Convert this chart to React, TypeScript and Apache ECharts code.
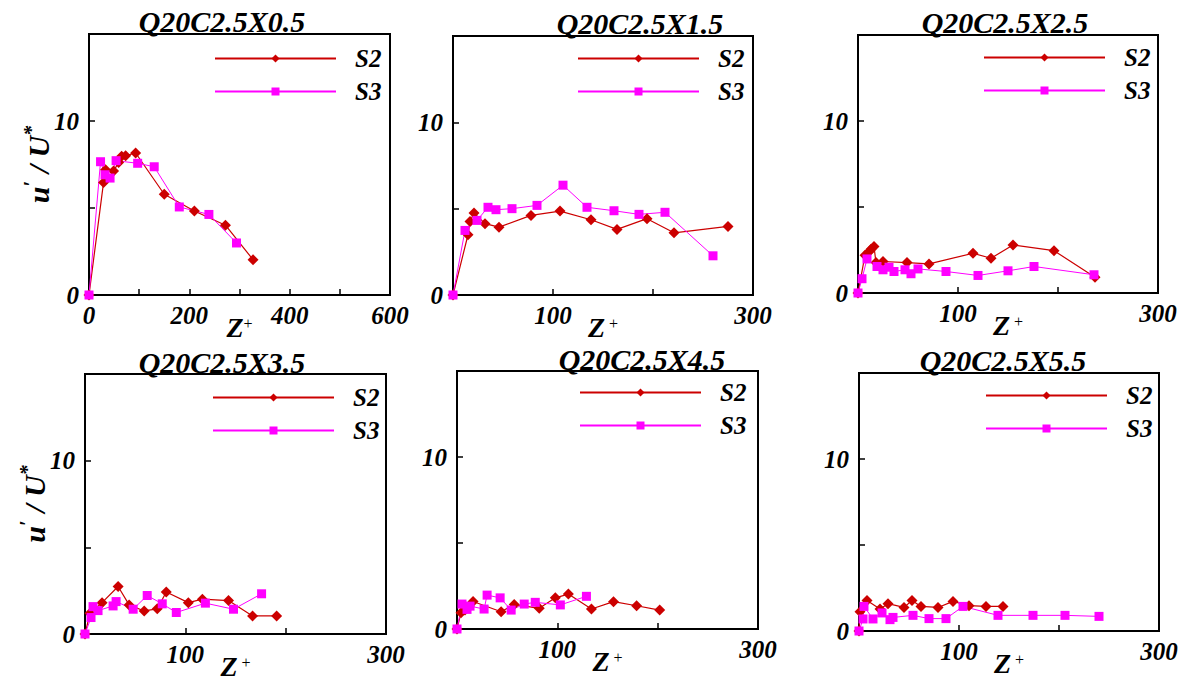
import React, { useEffect, useRef } from "react";
import * as echarts from "echarts";

// ---- data ----
const titles = ["Q20C2.5X0.5", "Q20C2.5X1.5", "Q20C2.5X2.5", "Q20C2.5X3.5", "Q20C2.5X4.5", "Q20C2.5X5.5"];
const seriesNames = ["S2", "S3"];

const p1S2z = [0, 29, 33, 49, 59, 65, 73, 93, 150, 210, 272, 327];
const p1S2u = [0, 6.47, 7.2, 7.12, 7.62, 7.97, 8.01, 8.16, 5.79, 4.83, 4.01, 2.03];
const p1S3z = [0, 23, 32, 42, 54, 97, 130, 180, 239, 294];
const p1S3u = [0, 7.66, 6.91, 6.72, 7.72, 7.57, 7.37, 5.06, 4.63, 2.99];

const p2S2z = [0, 15, 17, 21, 32, 46, 78, 107, 138, 164, 194, 221, 275];
const p2S2u = [0, 3.49, 4.26, 4.75, 4.13, 3.93, 4.61, 4.86, 4.36, 3.8, 4.42, 3.6, 3.97];
const p2S3z = [0, 12, 24, 35, 43, 59, 84, 110, 134, 161, 186, 212, 260];
const p2S3u = [0, 3.74, 4.32, 5.08, 4.94, 5.0, 5.19, 6.36, 5.08, 4.88, 4.67, 4.79, 2.27];

const p3S2z = [0, 7, 11, 13, 16, 18, 25, 49, 71, 115, 133, 155, 196, 237];
const p3S2u = [0, 2.2, 2.4, 2.55, 2.7, 1.77, 1.83, 1.77, 1.69, 2.31, 2.02, 2.79, 2.46, 0.92];
const p3S3z = [0, 4, 9, 19, 25, 31, 36, 47, 53, 60, 88, 120, 150, 176, 236];
const p3S3u = [0, 0.83, 1.98, 1.54, 1.35, 1.5, 1.25, 1.35, 1.12, 1.4, 1.25, 1.02, 1.29, 1.54, 1.06];

const p4S2z = [0, 5, 17, 33, 44, 59, 72, 81, 103, 117, 143, 167, 191];
const p4S2u = [0, 1.2, 1.81, 2.74, 1.68, 1.33, 1.45, 2.42, 1.81, 2.01, 1.93, 1.04, 1.04];
const p4S3z = [0, 6, 8, 13, 28, 31, 48, 62, 77, 91, 120, 148, 176];
const p4S3u = [0, 0.95, 1.58, 1.35, 1.62, 1.87, 1.43, 2.22, 1.74, 1.24, 1.78, 1.43, 2.32];

const p5S2z = [0, 4, 8, 12, 16, 44, 57, 82, 98, 111, 134, 156, 179, 202];
const p5S2u = [0, 0.95, 1.1, 1.3, 1.6, 1.0, 1.43, 1.2, 1.81, 2.03, 1.16, 1.59, 1.35, 1.1];
const p5S3z = [0, 5, 10, 13, 27, 30, 43, 54, 67, 78, 103, 129];
const p5S3u = [0, 1.45, 1.14, 1.33, 1.16, 1.97, 1.81, 1.1, 1.45, 1.55, 1.4, 1.9];

const p6S2z = [0, 1, 8, 21, 29, 45, 53, 62, 79, 94, 110, 127, 144];
const p6S2u = [0, 1.12, 1.78, 1.28, 1.59, 1.37, 1.78, 1.43, 1.37, 1.72, 1.47, 1.43, 1.43];
const p6S3z = [0, 4, 5, 14, 23, 31, 34, 54, 70, 87, 104, 139, 174, 206, 240];
const p6S3u = [0, 0.7, 1.43, 0.7, 1.05, 0.66, 0.79, 0.91, 0.72, 0.72, 1.43, 0.91, 0.91, 0.91, 0.85];

const panelData = [
  [p1S2z, p1S2u, p1S3z, p1S3u],
  [p2S2z, p2S2u, p2S3z, p2S3u],
  [p3S2z, p3S2u, p3S3z, p3S3u],
  [p4S2z, p4S2u, p4S3z, p4S3u],
  [p5S2z, p5S2u, p5S3z, p5S3u],
  [p6S2z, p6S2u, p6S3z, p6S3u],
];

const xMax = [600, 300, 300, 300, 300, 300];
const xLabels = [[0, 200, 400, 600], [100, 300], [100, 300], [100, 300], [100, 300], [100, 300]];
const yLabels = [0, 10];

// ---- layout ----
const grids = [
  { left: 89, top: 34, width: 301, height: 261 },
  { left: 453, top: 36, width: 300, height: 259 },
  { left: 858, top: 35, width: 300, height: 258 },
  { left: 85, top: 374, width: 301, height: 260 },
  { left: 457, top: 371, width: 301, height: 258 },
  { left: 859, top: 373, width: 300, height: 258 },
];
const legendPos = [
  { left: 214, top: 46 },
  { left: 577, top: 46 },
  { left: 983, top: 45 },
  { left: 212, top: 385 },
  { left: 579, top: 380 },
  { left: 985, top: 383 },
];
const titlePos = [
  { x: 222, y: 10 },
  { x: 640, y: 12 },
  { x: 1005, y: 11 },
  { x: 222, y: 351 },
  { x: 642, y: 348 },
  { x: 1003, y: 349 },
];

const FONT = "'Liberation Serif', 'Times New Roman', serif";
const RED = "#CC0000";
const MAGENTA = "#FF00FF";

export default function App() {
  const ref = useRef<HTMLDivElement>(null);
  useEffect(() => {
    if (!ref.current) return;
    const chart = echarts.init(ref.current, undefined, { renderer: "svg" });
    const boldItalic = { fontFamily: FONT, fontWeight: "bold" as const, fontStyle: "italic" as const, color: "#000" };

    const xAxes = grids.map((_, i) => ({
      type: "value",
      gridIndex: i,
      min: 0,
      max: xMax[i],
      interval: 100,
      axisLine: { show: true, lineStyle: { color: "#000", width: 2 } },
      axisTick: { show: true, inside: true, length: 6, lineStyle: { color: "#000", width: 1.5 } },
      splitLine: { show: false },
      axisLabel: {
        ...boldItalic,
        fontSize: 25,
        margin: 8,
        showMinLabel: true,
        showMaxLabel: true,
        formatter: (v: number) => (xLabels[i].includes(v) ? String(v) : ""),
      },
      name: i === 0 ? "{z|Z}{p|+}" : "{z|Z}{p| +}",
      nameLocation: "middle",
      nameGap: 20,
      nameMoveOverlap: false,
      nameTextStyle: {
        rich: {
          z: { ...boldItalic, fontSize: 28, lineHeight: 26, verticalAlign: "bottom" },
          p: { ...boldItalic, fontWeight: "normal", fontStyle: "normal", fontSize: 16, lineHeight: 26, verticalAlign: "top", padding: [0, 0, 10, 0] },
        },
      },
    }));

    const yAxes = grids.map((_, i) => ({
      type: "value",
      gridIndex: i,
      min: 0,
      max: 15,
      interval: 5,
      axisLine: { show: true, lineStyle: { color: "#000", width: 2 } },
      axisTick: { show: true, inside: true, length: 6, lineStyle: { color: "#000", width: 1.5 } },
      splitLine: { show: false },
      axisLabel: {
        ...boldItalic,
        fontSize: 25,
        margin: 10,
        formatter: (v: number) => (yLabels.includes(v) ? String(v) : ""),
      },
      name: i === 0 || i === 3 ? "{a|u}{p|′}{a| / U}{p|*}" : "",
      nameLocation: "middle",
      nameRotate: 90,
      nameGap: 36,
      nameMoveOverlap: false,
      nameTextStyle: {
        rich: {
          a: { ...boldItalic, fontSize: 30, lineHeight: 32, verticalAlign: "bottom" },
          p: { ...boldItalic, fontSize: 20, lineHeight: 32, verticalAlign: "top" },
        },
      },
    }));

    const series: any[] = [];
    panelData.forEach((d, i) => {
      const s2 = d[0].map((z, k) => [z, d[1][k]]);
      const s3 = d[2].map((z, k) => [z, d[3][k]]);
      series.push({
        name: seriesNames[0],
        type: "line",
        xAxisIndex: i,
        yAxisIndex: i,
        data: s2,
        symbol: "diamond",
        symbolSize: 11,
        clip: false,
        lineStyle: { color: RED, width: 1.2 },
        itemStyle: { color: RED },
      });
      series.push({
        name: seriesNames[1],
        type: "line",
        xAxisIndex: i,
        yAxisIndex: i,
        data: s3,
        symbol: "rect",
        symbolSize: 9,
        clip: false,
        lineStyle: { color: MAGENTA, width: 1 },
        itemStyle: { color: MAGENTA },
      });
    });

    const option = {
      animation: false,
      backgroundColor: "#fff",
      grid: grids.map((g) => ({ ...g, show: true, borderColor: "#000", borderWidth: 2, backgroundColor: "transparent" })),
      xAxis: xAxes,
      yAxis: yAxes,
      legend: legendPos.map((p) => ({
        left: p.left,
        top: p.top,
        orient: "vertical",
        data: seriesNames,
        itemWidth: 121,
        itemHeight: 10,
        itemGap: 8,
        selectedMode: false,
        padding: 0,
        textStyle: { ...boldItalic, fontSize: 25, lineHeight: 25, padding: [0, 0, 0, 14] },
      })),
      title: titlePos.map((p, i) => ({
        text: titles[i],
        left: p.x,
        top: p.y,
        textAlign: "center",
        padding: 0,
        textStyle: { ...boldItalic, fontSize: 30, lineHeight: 22 },
      })),
      series,
    };
    chart.setOption(option as any);
    return () => chart.dispose();
  }, []);
  return <div ref={ref} style={{ position: "fixed", left: 0, top: 0, width: 1190, height: 682 }} />;
}
